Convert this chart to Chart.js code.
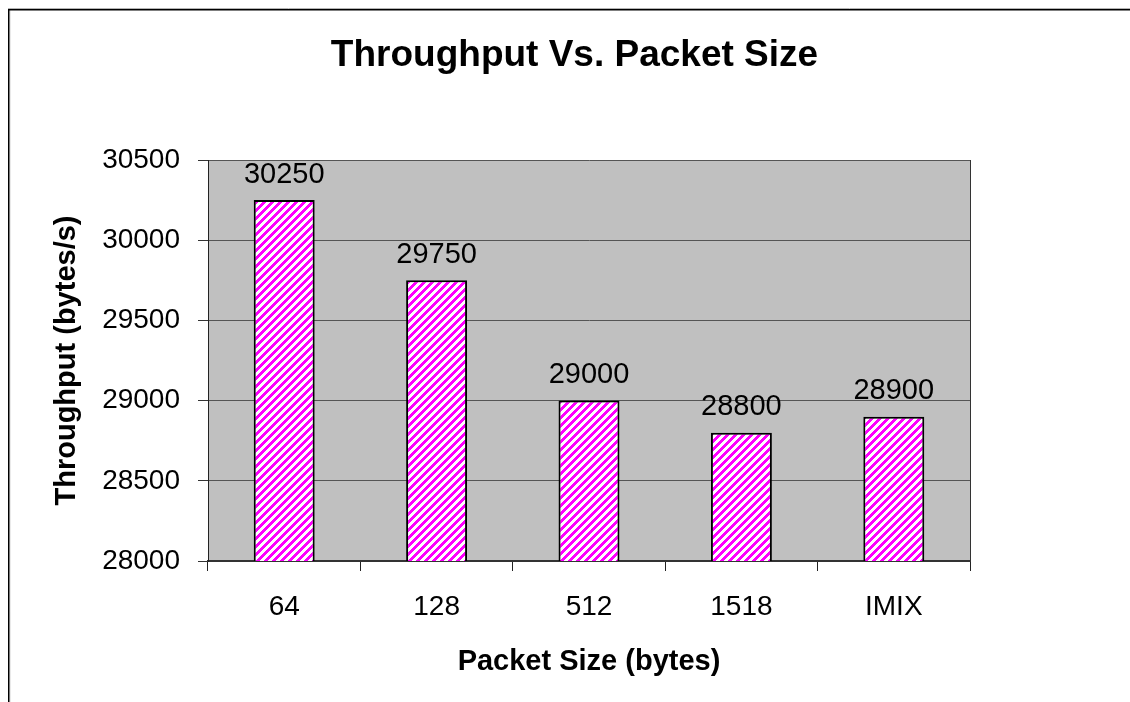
<!DOCTYPE html>
<html>
<head>
<meta charset="utf-8">
<title>Throughput Vs. Packet Size</title>
<script src="https://cdn.jsdelivr.net/npm/chart.js@4/dist/chart.umd.min.js"></script>
<style>
  html, body { margin: 0; padding: 0; background: #ffffff; }
  #wrap { width: 1130px; height: 702px; }
</style>
</head>
<body>
<div id="wrap"><canvas id="chart" width="1130" height="702"></canvas></div>
<script>
// Chart data
const categories = ['64', '128', '512', '1518', 'IMIX'];
const throughput = [30250, 29750, 29000, 28800, 28900];
const yMin = 28000;
const yMax = 30500;
const yStep = 500;

const FONT = "'Liberation Sans', Arial, sans-serif";

// Magenta / white upward-diagonal hatch used to fill the bars
function makeHatch() {
  const size = 8;
  const c = document.createElement('canvas');
  c.width = size; c.height = size;
  const g = c.getContext('2d');
  const img = g.createImageData(size, size);
  for (let y = 0; y < size; y++) {
    for (let x = 0; x < size; x++) {
      const on = ((x + y) % size) < 4;
      const k = (y * size + x) * 4;
      img.data[k] = 255;
      img.data[k + 1] = on ? 0 : 255;
      img.data[k + 2] = 255;
      img.data[k + 3] = 255;
    }
  }
  g.putImageData(img, 0, 0);
  return document.getElementById('chart').getContext('2d').createPattern(c, 'repeat');
}

// White page, outer frame and grey plot background
const framePlugin = {
  id: 'frame',
  beforeDraw(chart) {
    const { ctx, chartArea: a } = chart;
    ctx.save();
    ctx.fillStyle = '#ffffff';
    ctx.fillRect(0, 0, chart.width, chart.height);
    // frame edges
    ctx.strokeStyle = '#b4b4b4';
    ctx.lineWidth = 1;
    ctx.beginPath();
    ctx.moveTo(8, 8.5); ctx.lineTo(chart.width, 8.5);
    ctx.moveTo(9.8, 10); ctx.lineTo(9.8, chart.height);
    ctx.stroke();
    ctx.strokeStyle = '#000000';
    ctx.lineWidth = 1.4;
    ctx.beginPath();
    ctx.moveTo(8, 9.7); ctx.lineTo(chart.width, 9.7);
    ctx.moveTo(8.7, 9); ctx.lineTo(8.7, chart.height);
    ctx.stroke();
    // plot area fill
    ctx.fillStyle = '#c0c0c0';
    ctx.fillRect(a.left, a.top, a.right - a.left, a.bottom - a.top);
    ctx.restore();
  }
};

// Value written above each bar
const valueLabels = {
  id: 'valueLabels',
  afterDatasetsDraw(chart) {
    const { ctx } = chart;
    const meta = chart.getDatasetMeta(0);
    ctx.save();
    ctx.font = '29px ' + FONT;
    ctx.fillStyle = '#000000';
    ctx.textAlign = 'center';
    ctx.textBaseline = 'alphabetic';
    meta.data.forEach((bar, i) => {
      ctx.fillText(String(chart.data.datasets[0].data[i]), bar.x, bar.y - 17.5);
    });
    ctx.restore();
  }
};

new Chart(document.getElementById('chart'), {
  type: 'bar',
  data: {
    labels: categories,
    datasets: [{
      data: throughput,
      backgroundColor: makeHatch(),
      borderColor: '#000000',
      borderWidth: 2,
      borderSkipped: false,
      barPercentage: 0.4,
      categoryPercentage: 1.0
    }]
  },
  options: {
    responsive: false,
    animation: false,
    devicePixelRatio: 1,
    layout: { padding: { left: 19, right: 0, top: 0, bottom: 0 } },
    plugins: {
      legend: { display: false },
      tooltip: { enabled: false },
      title: {
        display: true,
        text: 'Throughput Vs. Packet Size',
        color: '#000000',
        font: { family: FONT, size: 37, weight: 'bold' },
        padding: { top: 33.8, bottom: 81.8 }
      }
    },
    scales: {
      x: {
        position: 'bottom',
        afterFit(scale) { scale.height = 141; },
        grid: {
          offset: true,
          drawOnChartArea: false,
          drawTicks: true,
          tickLength: 10,
          color: '#222222',
          lineWidth: 1
        },
        border: { display: true, color: '#333333', width: 2 },
        ticks: {
          color: '#000000',
          font: { family: FONT, size: 28 },
          padding: 19.4,
          maxRotation: 0,
          autoSkip: false
        },
        title: {
          display: true,
          text: 'Packet Size (bytes)',
          color: '#000000',
          font: { family: FONT, size: 29, weight: 'bold' },
          padding: { top: 0, bottom: 22.6 }
        }
      },
      y: {
        position: 'left',
        min: yMin,
        max: yMax,
        afterFit(scale) { scale.width = 189; },
        grid: {
          color: '#555555',
          lineWidth: 1,
          drawTicks: true,
          tickLength: 10,
          tickColor: '#333333'
        },
        border: { display: true, color: '#222222', width: 1 },
        ticks: {
          stepSize: yStep,
          color: '#000000',
          font: { family: FONT, size: 28 },
          padding: 18,
          callback: (v) => String(v)
        },
        title: {
          display: true,
          text: 'Throughput (bytes/s)',
          color: '#000000',
          font: { family: FONT, size: 29, weight: 'bold' },
          padding: { top: 30.6, bottom: 0 }
        }
      },
      // right-hand margin; its border closes the plot area on the right
      yRight: {
        position: 'right',
        display: true,
        afterFit(scale) { scale.width = 160; },
        grid: { display: false, drawOnChartArea: false, drawTicks: false },
        border: { display: true, color: '#333333', width: 1 },
        ticks: { display: false }
      }
    }
  },
  plugins: [framePlugin, valueLabels]
});
</script>
</body>
</html>
